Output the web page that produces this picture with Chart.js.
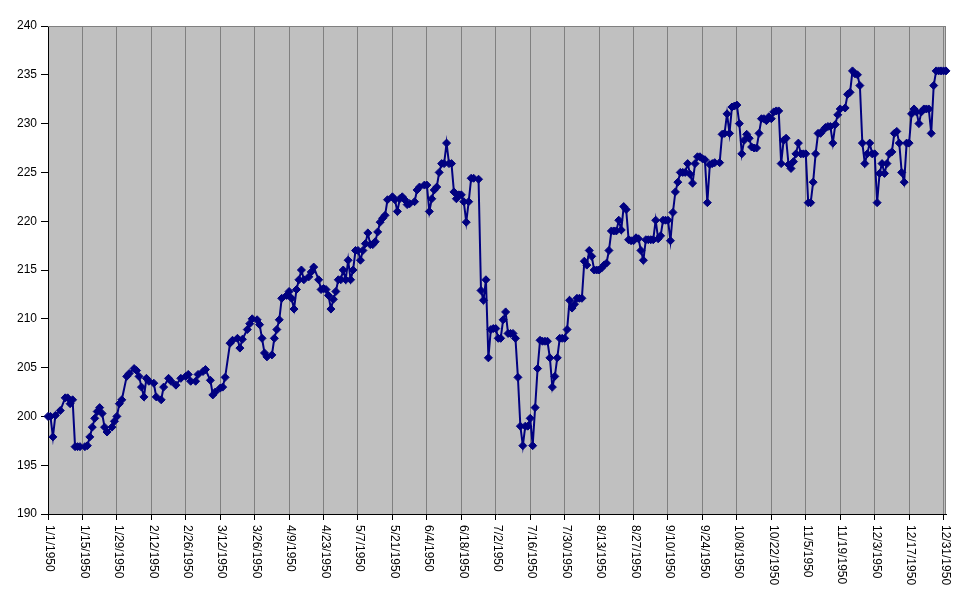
<!DOCTYPE html>
<html><head><meta charset="utf-8">
<script src="https://cdn.jsdelivr.net/npm/chart.js@4/dist/chart.umd.min.js"></script>
<style>html,body{margin:0;padding:0;background:#fff;}</style>
</head><body>
<canvas id="c" width="971" height="605"></canvas>
<script>
// Day offset from 1/1/1950
const days = [0,1,2,3,5,7,8,9,10,11,12,13,15,16,17,18,19,20,21,22,23,24,26,27,28,29,30,32,33,35,36,37,38,39,40,41,43,44,46,47,49,50,52,54,56,57,58,60,61,63,64,66,67,68,70,71,72,74,75,77,78,79,81,82,83,85,86,87,88,89,91,92,93,94,95,97,98,99,100,101,102,103,104,106,107,108,110,111,112,113,114,115,116,117,118,119,120,121,122,123,124,125,126,127,128,129,130,131,132,133,134,135,136,137,138,140,141,142,143,144,145,146,147,149,150,151,153,154,155,156,157,158,159,160,161,162,163,164,165,166,167,168,169,170,171,172,173,175,176,177,178,179,180,181,182,183,184,185,186,187,188,189,190,191,192,193,194,195,196,197,198,199,200,201,202,203,204,205,206,207,208,209,210,211,212,213,214,215,216,217,218,219,220,221,222,223,224,225,226,227,228,229,230,231,232,233,234,235,236,237,238,239,240,241,242,243,244,245,246,247,248,249,250,251,252,253,254,255,256,257,258,259,260,261,262,263,264,265,266,267,268,269,270,271,273,274,275,276,277,278,279,280,281,282,283,284,285,286,287,288,289,290,291,292,293,294,295,296,297,298,299,300,301,302,303,304,305,306,307,308,309,310,311,312,313,314,315,316,317,318,319,320,321,322,324,325,326,327,328,329,330,331,332,333,334,335,336,337,338,339,340,341,342,343,344,345,346,347,348,349,350,351,352,353,354,355,356,357,358,359,360,361,362,363,364,365];
const values = [200.0,200.0,197.9,200.1,200.6,201.9,201.9,201.3,201.7,196.9,196.9,196.9,196.9,197.0,197.9,198.9,199.8,200.5,200.9,200.3,198.9,198.4,198.9,199.5,200.0,201.3,201.7,204.1,204.4,204.9,204.7,204.1,203.0,202.0,203.9,203.6,203.4,202.0,201.7,203.0,203.9,203.6,203.2,203.9,204.1,204.3,203.6,203.6,204.3,204.6,204.8,203.7,202.2,202.5,202.9,203.0,204.0,207.5,207.8,208.0,207.0,207.9,208.9,209.5,210.0,209.9,209.4,208.0,206.5,206.1,206.3,208.0,208.9,209.9,212.1,212.4,212.8,212.1,211.0,213.0,214.0,215.0,214.0,214.3,214.8,215.3,214.0,213.0,213.1,213.0,212.4,211.0,212.0,212.8,214.0,214.0,215.0,214.0,216.0,214.0,215.0,217.0,217.0,216.0,217.0,217.7,218.8,217.6,217.6,217.9,218.9,219.9,220.3,220.6,222.2,222.5,222.2,221.0,222.3,222.5,222.2,221.7,221.8,222.0,223.2,223.5,223.7,223.7,221.0,222.3,223.2,223.5,225.0,225.9,225.9,228.0,225.9,225.9,223.0,222.3,222.7,222.7,222.0,219.9,222.0,224.4,224.4,224.3,212.9,211.9,214.0,206.0,208.9,209.0,209.0,208.0,208.0,209.9,210.7,208.5,208.5,208.5,208.0,204.0,199.0,197.0,199.0,199.0,199.8,197.0,200.9,204.9,207.8,207.7,207.7,207.7,206.0,203.0,204.1,206.0,208.0,208.0,208.0,208.9,211.9,211.1,211.5,212.1,212.1,212.1,215.9,215.5,217.0,216.4,215.0,215.0,215.0,215.2,215.5,215.7,217.0,219.0,219.0,219.0,220.1,219.1,221.5,221.2,218.1,218.0,218.0,218.3,218.2,217.0,216.0,218.1,218.1,218.1,218.1,220.1,218.2,218.5,220.1,220.1,220.1,218.0,220.9,223.0,224.0,225.0,225.0,225.0,225.9,224.8,223.9,225.9,226.6,226.6,226.4,226.3,221.9,225.8,225.9,226.0,226.0,228.9,229.0,231.0,229.0,231.7,231.8,231.9,230.0,226.9,228.3,228.9,228.5,227.6,227.5,227.5,229.0,230.5,230.5,230.3,230.7,230.5,231.2,231.3,231.3,225.9,228.3,228.5,225.8,225.4,226.1,226.9,228.0,226.9,226.9,226.9,221.9,221.9,224.0,226.9,229.0,229.0,229.3,229.6,229.7,229.7,228.0,229.9,230.9,231.5,231.6,233.0,233.2,235.4,235.1,235.0,233.9,228.0,225.9,226.9,228.0,226.9,226.9,221.9,224.9,225.9,224.9,225.9,226.9,227.1,229.0,229.2,228.0,225.0,224.0,228.0,228.0,231.0,231.5,231.2,230.0,231.2,231.5,231.5,231.5,229.0,233.9,235.4,235.4,235.4,235.4,235.4];
const tickLabels = ["1/1/1950","1/15/1950","1/29/1950","2/12/1950","2/26/1950","3/12/1950","3/26/1950","4/9/1950","4/23/1950","5/7/1950","5/21/1950","6/4/1950","6/18/1950","7/2/1950","7/16/1950","7/30/1950","8/13/1950","8/27/1950","9/10/1950","9/24/1950","10/8/1950","10/22/1950","11/5/1950","11/19/1950","12/3/1950","12/17/1950","12/31/1950"];
const tickDays = [0,14,28,42,56,70,84,98,112,126,140,154,168,182,196,210,224,238,252,266,280,294,308,322,336,350,364];
const yTicks = [190,195,200,205,210,215,220,225,230,235,240];

const FONT = '"Liberation Sans", Arial, sans-serif';
const points = days.map((d,i)=>({x:d,y:values[i]}));

const deco = {
  id:'deco',
  beforeDraw(chart){
    const {ctx, chartArea:a} = chart;
    ctx.save();
    ctx.fillStyle = '#C0C0C0';
    ctx.fillRect(a.left, a.top, a.right-a.left, a.bottom-a.top);
    ctx.restore();
  },
  beforeDatasetsDraw(chart){
    const {ctx, chartArea:a} = chart;
    ctx.save();
    ctx.strokeStyle = '#808080'; ctx.lineWidth = 1;
    ctx.beginPath();
    ctx.moveTo(a.left, a.top+0.5); ctx.lineTo(a.right, a.top+0.5);
    ctx.moveTo(a.right-0.5, a.top); ctx.lineTo(a.right-0.5, a.bottom);
    ctx.stroke();
    ctx.restore();
  },
  afterDraw(chart){
    const {ctx} = chart; const xs = chart.scales.x;
    ctx.save();
    ctx.font = '12px ' + FONT; ctx.fillStyle = '#000';
    ctx.textAlign = 'left'; ctx.textBaseline = 'middle';
    xs.ticks.forEach((t,i)=>{
      const lbl = tickLabels[i];
      if(!lbl) return;
      const px = xs.getPixelForValue(t.value);
      ctx.save(); ctx.translate(px+1.5, xs.top+11); ctx.rotate(Math.PI/2);
      ctx.fillText(lbl, 0, 0); ctx.restore();
    });
    ctx.restore();
  }
};

new Chart(document.getElementById('c'), {
  type:'line',
  data:{datasets:[{
    data:points, borderColor:'#000080', backgroundColor:'#000080', borderWidth:2,
    pointStyle:'rectRot', pointRadius:4, pointBorderWidth:1, pointBorderColor:'#000080',
    pointBackgroundColor:'#000080', tension:0, clip:false
  }]},
  options:{
    responsive:false, devicePixelRatio:1, animation:false,
    layout:{padding:{top:26,right:25,left:0,bottom:0}},
    plugins:{legend:{display:false}, tooltip:{enabled:false}},
    events:[],
    scales:{
      x:{type:'linear', min:0, max:365,
        ticks:{stepSize:14, display:false},
        afterBuildTicks(s){ s.ticks = tickDays.map(v=>({value:v})); },
        grid:{color:'#808080', tickColor:'#000', tickLength:6, drawTicks:true, drawOnChartArea:true},
        border:{display:true, color:'#000', width:1},
        afterFit(s){ s.height = 91; }
      },
      y:{min:190, max:240,
        afterBuildTicks(s){ s.ticks = yTicks.map(v=>({value:v})); },
        ticks:{color:'#000', font:{family:FONT, size:12}, padding:4},
        grid:{drawOnChartArea:false, drawTicks:true, tickLength:7, color:'#000'},
        border:{display:true, color:'#000', width:1},
        afterFit(s){ s.width = 48; }
      }
    }
  },
  plugins:[deco]
});
</script>
</body></html>
